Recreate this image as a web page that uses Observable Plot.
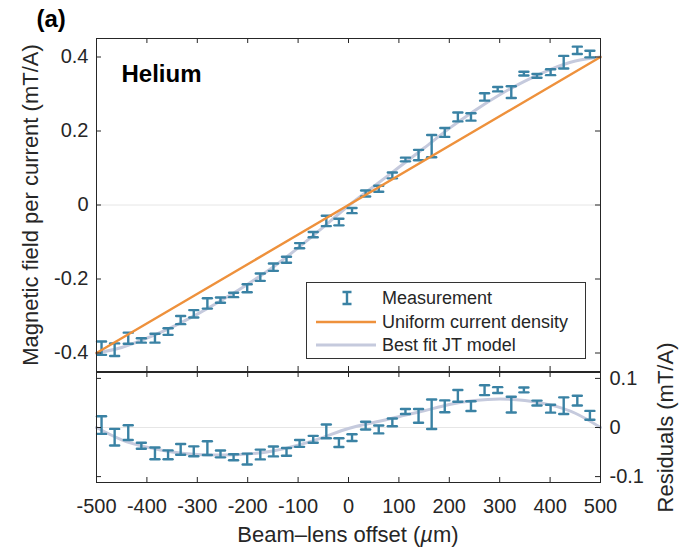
<!DOCTYPE html>
<html>
<head>
<meta charset="utf-8">
<script src="https://cdn.jsdelivr.net/npm/d3@7"></script>
<script src="https://cdn.jsdelivr.net/npm/@observablehq/plot@0.6"></script>
<style>
  body { margin: 0; background: #fff; }
  #fig { position: relative; width: 679px; height: 548px; font-family: "Liberation Sans", Arial, Helvetica, sans-serif; color: #262626; }
  #fig svg.panel { position: absolute; left: 0; overflow: visible; }
  #xlabel { position: absolute; left: 96px; width: 504px; top: 522px; line-height: 26px; font-size: 22px; text-align: center; }
  #legend { position: absolute; left: 306px; top: 282px; width: 280px; height: 77px; box-sizing: border-box; border: 1px solid #333; background: #fff; }
  #legend .row { position: absolute; left: 75px; height: 22px; line-height: 22px; font-size: 18px; white-space: nowrap; }
  #legend svg { position: absolute; left: 0; top: 0; }
</style>
</head>
<body>
<div id="fig"></div>
<script>
// Beam–lens offset of each measurement (µm)
const measX = [-490, -464, -437, -411, -384, -358, -333, -307, -280, -254, -228, -201, -175, -149, -123, -97, -70, -44, -19,
               7, 34, 60, 87, 113, 139, 165, 191, 217, 243, 270, 296, 323, 348, 374, 401, 427, 454, 479];
// Measured magnetic field per current (mT/A)
const measY = [-0.387, -0.391, -0.360, -0.366, -0.360, -0.342, -0.311, -0.294, -0.266, -0.257, -0.243, -0.225, -0.195, -0.168, -0.148, -0.110, -0.080, -0.043, -0.046,
               -0.015, 0.031, 0.044, 0.080, 0.123, 0.135, 0.159, 0.196, 0.238, 0.238, 0.292, 0.313, 0.305, 0.355, 0.349, 0.359, 0.386, 0.418, 0.408];
// Half-length of each error bar (mT/A)
const measErr = [0.018, 0.017, 0.015, 0.006, 0.012, 0.009, 0.011, 0.010, 0.014, 0.007, 0.006, 0.011, 0.010, 0.010, 0.008, 0.007, 0.007, 0.014, 0.009,
                 0.007, 0.008, 0.008, 0.008, 0.005, 0.014, 0.030, 0.012, 0.012, 0.010, 0.010, 0.006, 0.016, 0.005, 0.005, 0.008, 0.017, 0.010, 0.009];

// Uniform current density model (straight line)
const uniformX = [-500, 500];
const uniformY = [-0.4, 0.4];

// Best fit JT model
const fitX = [-500, -450, -400, -350, -300, -250, -200, -150, -100, -50, 0, 50, 100, 150, 200, 250, 300, 350, 400, 450, 500];
const fitY = [-0.400, -0.385, -0.360, -0.330, -0.295, -0.256, -0.214, -0.168, -0.116, -0.060, -0.002, 0.050, 0.102, 0.154, 0.207, 0.255, 0.298, 0.335, 0.366, 0.389, 0.400];

// Tick values
const xTicks = [-500, -400, -300, -200, -100, 0, 100, 200, 300, 400, 500];
const yTicksTop = [-0.4, -0.2, 0, 0.2, 0.4];
const yTicksResid = [-0.1, 0, 0.1];

const font = '"Liberation Sans", Arial, Helvetica, sans-serif';
const ink = "#262626";
const barColor = "#3a82a4";
const uniColor = "#ee913c";
const fitColor = "#c5cadd";
const fmt = d => String(d);

// uniform model evaluated at x (linear through its two points)
const uniformAt = x => uniformY[0] + (x - uniformX[0]) * (uniformY[1] - uniformY[0]) / (uniformX[1] - uniformX[0]);

const meas = measX.map((x, i) => ({x, y: measY[i], e: measErr[i], r: measY[i] - uniformAt(x)}));
const uniform = uniformX.map((x, i) => ({x, y: uniformY[i]}));
const fit = fitX.map((x, i) => ({x, y: fitY[i], r: fitY[i] - uniformAt(x)}));

// horizontal cap drawn centred on the vector origin
const capShape = {draw(context, l) { context.moveTo(-l / 2, 0); context.lineTo(l / 2, 0); }};

function errorBars(field) {
  return [
    Plot.ruleX(meas, {x: "x", y1: d => d[field] - d.e, y2: d => d[field] + d.e, stroke: barColor, strokeWidth: 2.4}),
    Plot.vector(meas, {x: "x", y: d => d[field] - d.e, length: 9, anchor: "start", shape: capShape, stroke: barColor, strokeWidth: 2.4}),
    Plot.vector(meas, {x: "x", y: d => d[field] + d.e, length: 9, anchor: "start", shape: capShape, stroke: barColor, strokeWidth: 2.4})
  ];
}

// inward ticks on all four sides of a panel
function boxTicks(yTicks, frameW, frameH) {
  const t = 5;
  return [
    Plot.tickY(yTicks, {y: d => d, insetRight: frameW - t, stroke: ink}),
    Plot.tickY(yTicks, {y: d => d, insetLeft: frameW - t, stroke: ink}),
    Plot.tickX(xTicks, {x: d => d, insetBottom: frameH - t, stroke: ink}),
    Plot.tickX(xTicks, {x: d => d, insetTop: frameH - t, stroke: ink})
  ];
}

const style = {fontFamily: font, fontSize: "20px", color: ink, background: "transparent", overflow: "visible"};

const topPlot = Plot.plot({
  width: 679, height: 371,
  marginTop: 38, marginBottom: 0, marginLeft: 96, marginRight: 79,
  style,
  x: {domain: [-500, 500], axis: null},
  y: {domain: [-0.45, 0.45]},
  marks: [
    Plot.ruleY([0], {stroke: "#e6e6e6", strokeWidth: 1}),
    Plot.line(fit, {x: "x", y: "y", curve: "natural", stroke: fitColor, strokeWidth: 3}),
    ...errorBars("y"),
    Plot.line(uniform, {x: "x", y: "y", stroke: uniColor, strokeWidth: 2.4}),
    Plot.frame({stroke: ink, strokeWidth: 1}),
    ...boxTicks(yTicksTop, 504, 333),
    Plot.axisY(yTicksTop, {anchor: "left", tickSize: 0, tickPadding: 8, tickFormat: fmt, fontSize: 20, label: null}),
    Plot.text(["Magnetic field per current (mT/A)"], {text: d => d, frameAnchor: "left", dx: -66, rotate: -90,
      textAnchor: "middle", lineAnchor: "middle", fontSize: 22, fill: ink}),
    Plot.text(["Helium"], {text: d => d, frameAnchor: "top-left", dx: 25, dy: 36, textAnchor: "start", lineAnchor: "middle",
      fontWeight: "bold", fontSize: 24, fill: "#000"}),
    Plot.text(["(a)"], {text: d => d, frameAnchor: "top-left", dx: -60, dy: -19, textAnchor: "start", lineAnchor: "middle",
      fontWeight: "bold", fontSize: 24, fill: "#000"})
  ]
});
topPlot.classList.add("panel");
topPlot.style.top = "0px";

const botPlot = Plot.plot({
  width: 679, height: 177,
  marginTop: 1, marginBottom: 66, marginLeft: 96, marginRight: 79,
  style,
  x: {domain: [-500, 500]},
  y: {domain: [-0.112, 0.112]},
  marks: [
    Plot.ruleY([0], {stroke: "#e6e6e6", strokeWidth: 1}),
    Plot.line(fit, {x: "x", y: "r", curve: "natural", stroke: fitColor, strokeWidth: 3}),
    ...errorBars("r"),
    Plot.frame({stroke: ink, strokeWidth: 1}),
    ...boxTicks(yTicksResid, 504, 110),
    Plot.axisX(xTicks, {anchor: "bottom", tickSize: 0, tickPadding: 16, tickFormat: fmt, fontSize: 20, label: null}),
    Plot.axisY(yTicksResid, {anchor: "right", tickSize: 0, tickPadding: 9, tickFormat: fmt, fontSize: 20, label: null}),
    Plot.text(["Residuals (mT/A)"], {text: d => d, frameAnchor: "right", dx: 65, rotate: -90,
      textAnchor: "middle", lineAnchor: "middle", fontSize: 22, fill: ink})
  ]
});
botPlot.classList.add("panel");
botPlot.style.top = "371px";

const fig = document.getElementById("fig");
fig.appendChild(topPlot);
fig.appendChild(botPlot);

const xl = document.createElement("div");
xl.id = "xlabel";
xl.innerHTML = "Beam–lens offset (<i>µ</i>m)";
fig.appendChild(xl);

// legend box
const legendItems = [
  {label: "Measurement", kind: "bar"},
  {label: "Uniform current density", kind: "line", color: uniColor},
  {label: "Best fit JT model", kind: "line", color: fitColor}
];
const rowCenters = [16, 40, 63];
const lg = document.createElement("div");
lg.id = "legend";
const sw = d3.create("svg").attr("width", 280).attr("height", 77);
legendItems.forEach((it, i) => {
  const cy = rowCenters[i] - 1;
  if (it.kind === "bar") {
    const cx = 40;
    sw.append("path").attr("d", `M${cx},${cy - 6}V${cy + 6}M${cx - 4.5},${cy - 6}H${cx + 4.5}M${cx - 4.5},${cy + 6}H${cx + 4.5}`)
      .attr("stroke", barColor).attr("stroke-width", 2.4).attr("fill", "none");
  } else {
    sw.append("line").attr("x1", 9).attr("x2", 69).attr("y1", cy).attr("y2", cy)
      .attr("stroke", it.color).attr("stroke-width", it.color === fitColor ? 3 : 2.4);
  }
  const row = document.createElement("div");
  row.className = "row";
  row.style.top = (rowCenters[i] - 11 - 1) + "px";
  row.textContent = it.label;
  lg.appendChild(row);
});
lg.prepend(sw.node());
fig.appendChild(lg);
</script>
</body>
</html>
